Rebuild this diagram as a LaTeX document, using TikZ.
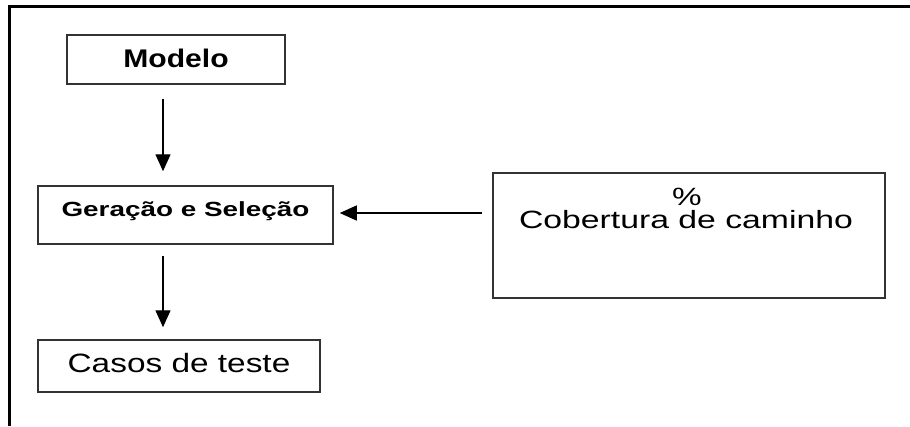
\documentclass[tikz,border=0pt]{standalone}
\usepackage{fontspec}
\setmainfont{Liberation Sans}
\usepackage{graphicx}
\usetikzlibrary{arrows.meta}
\begin{document}
\begin{tikzpicture}[x=1pt,y=-1pt,
  boxnode/.style={draw=black!80,line width=1.5pt,inner sep=0pt,text depth=0pt},
  arr/.style={line width=1.4pt,-{Triangle[length=17pt,width=15pt]}},
  frame/.style={line width=3pt}]
\useasboundingbox (0,0) rectangle (910,426);
\draw[frame] (9.5,426) -- (9.5,6) -- (910,6);
\node[boxnode,minimum width=218pt,minimum height=49pt,text height=15pt] (modelo) at (176,59.5)
  {\fontsize{25.5}{30}\selectfont\scalebox{1.18}[1]{\bfseries Modelo}};
\node[boxnode,minimum width=295pt,minimum height=58pt,text height=3pt] (gera) at (185.5,215)
  {\fontsize{20.5}{24}\selectfont\scalebox{1.36}[1]{\bfseries Geração e Seleção}};
\node[boxnode,minimum width=282pt,minimum height=52pt,text height=12pt] (casos) at (179,366)
  {\fontsize{26.5}{30}\selectfont\scalebox{1.26}[1]{Casos de teste}};
\node[boxnode,minimum width=392pt,minimum height=125pt] (cob) at (689,235.5) {};
\node[anchor=base,inner sep=0pt] (pct) at (687,205)
  {\fontsize{25}{28}\selectfont\scalebox{1.33}[1]{\%}};
\node[anchor=base,inner sep=0pt] (cobtxt) at (686,228)
  {\fontsize{25}{28}\selectfont\scalebox{1.35}[1]{Cobertura de caminho}};
\draw[arr,shorten <=14pt,shorten >=14pt] ([xshift=-13pt]modelo.south) -- ([xshift=-22.5pt]gera.north);
\draw[arr,shorten <=11pt,shorten >=12pt] ([xshift=-22.5pt]gera.south) -- ([xshift=-16pt]casos.north);
\draw[arr,shorten <=10pt,shorten >=6pt] ([yshift=22.5pt]cob.west) -- ([yshift=2pt]gera.east);
\end{tikzpicture}
\end{document}
